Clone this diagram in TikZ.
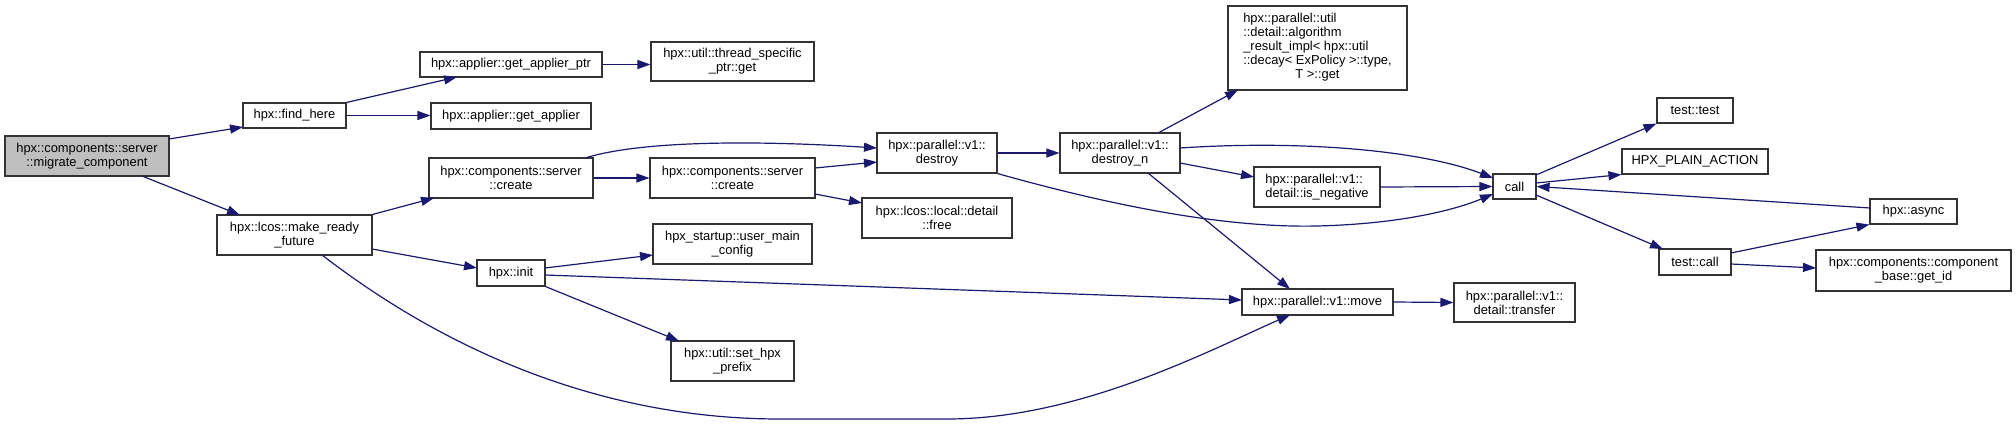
\documentclass[tikz,border=0pt]{standalone}
\usepackage{fontspec}
\setmainfont{Liberation Sans}
\usetikzlibrary{arrows.meta,calc}
\definecolor{edgecol}{HTML}{191970}
\definecolor{rootfill}{HTML}{BFBFBF}
\definecolor{boxline}{HTML}{333333}
\begin{document}
\begin{tikzpicture}[x=1pt,y=-1pt,
  fn/.style={draw=boxline, line width=1.1pt, fill=white, inner sep=0pt, align=center,
             font=\fontsize{12.9}{14}\selectfont},
  e/.style={draw=edgecol, line width=1.2pt, -{Triangle[length=13pt,width=9pt]}}]
\useasboundingbox (0,0) rectangle (2016,425);

% nodes
\node[fn, fill=rootfill, minimum width=164pt, minimum height=40pt] (mig) at (87,156) {hpx::components::server\\::migrate\_component};
\node[fn, minimum width=103pt, minimum height=25pt] (fh) at (294.5,115.5) {hpx::find\_here};
\node[fn, minimum width=155pt, minimum height=40pt] (mrf) at (294.5,235) {hpx::lcos::make\_ready\\\_future};
\node[fn, minimum width=182pt, minimum height=25pt] (gap) at (511,64.5) {hpx::applier::get\_applier\_ptr};
\node[fn, minimum width=163pt, minimum height=39pt] (tsp) at (732.5,61.5) {hpx::util::thread\_specific\\\_ptr::get};
\node[fn, minimum width=160pt, minimum height=26pt] (ga) at (511,116) {hpx::applier::get\_applier};
\node[fn, minimum width=164pt, minimum height=40pt] (cr1) at (511,178) {hpx::components::server\\::create};
\node[fn, minimum width=165pt, minimum height=40pt] (cr2) at (732.5,178) {hpx::components::server\\::create};
\node[fn, minimum width=68pt, minimum height=26pt] (init) at (511,273) {hpx::init};
\node[fn, minimum width=159pt, minimum height=40pt] (umc) at (732.5,244) {hpx\_startup::user\_main\\\_config};
\node[fn, minimum width=123pt, minimum height=40pt] (shp) at (732.5,361) {hpx::util::set\_hpx\\\_prefix};
\node[fn, minimum width=120pt, minimum height=40pt] (destroy) at (937,153) {hpx::parallel::v1::\\destroy};
\node[fn, minimum width=150pt, minimum height=40pt] (free) at (937,218) {hpx::lcos::local::detail\\::free};
\node[fn, minimum width=120pt, minimum height=40pt] (dn) at (1120,153) {hpx::parallel::v1::\\destroy\_n};
\node[fn, minimum width=179pt, minimum height=84pt] (alg) at (1317.5,48) {%
  \begin{tabular}{@{}l@{}}hpx::parallel::util\\::detail::algorithm\\\_result\_impl< hpx::util\\::decay< ExPolicy >::type,\\\multicolumn{1}{@{}c@{}}{T >::get}\end{tabular}};
\node[fn, align=left, minimum width=126pt, minimum height=40pt] (isneg) at (1317,187) {hpx::parallel::v1::\\detail::is\_negative};
\node[fn, minimum width=151pt, minimum height=26pt] (move) at (1317.5,302) {hpx::parallel::v1::move};
\node[fn, minimum width=43pt, minimum height=25pt] (call) at (1514.5,186.5) {call};
\node[fn, minimum width=121pt, minimum height=39pt] (transfer) at (1514.5,302.5) {hpx::parallel::v1::\\detail::transfer};
\node[fn, minimum width=76pt, minimum height=25pt] (tt) at (1695,110.5) {test::test};
\node[fn, minimum width=146pt, minimum height=25pt] (hpa) at (1695,161.5) {HPX\_PLAIN\_ACTION};
\node[fn, minimum width=72pt, minimum height=26pt] (tc) at (1695,262) {test::call};
\node[fn, minimum width=87pt, minimum height=25pt] (async) at (1913.5,211.5) {hpx::async};
\node[fn, minimum width=195pt, minimum height=41pt] (getid) at (1913.5,270.5) {hpx::components::component\\\_base::get\_id};

% edges
\draw[e] ($(mig)+(82,-17)$) -- ($(fh)+(-51.5,11.5)$);
\draw[e] ($(mig)+(55,20)$) -- ($(mrf)+(-54.5,-20)$);
\draw[e] (fh.north east) -- ($(gap)+(-54,12.5)$);
\draw[e] (fh.east) -- (fh.east -| ga.west);
\draw[e] (gap.east) -- (gap.east -| tsp.west);
\draw[e] (mrf.north east) -- ($(cr1)+(-77,20)$);
\draw[e] ($(mrf)+(77.5,14)$) -- ($(init)+(-34,-5)$);
\draw[e] ($(mrf)+(27.5,20)$) .. controls (400,315) and (560,419) .. (780,419) -- (947,419)
   .. controls (1080,419) and (1210,350) .. ($(move)+(-27.5,13)$);
\draw[e] (cr1.east) -- (cr2.west);
\draw[e] ($(cr1)+(74,-20)$) .. controls (640,141) and (750,140) .. ($(destroy)+(-60,-5)$);
\draw[e] ($(cr2)+(82.5,-10)$) -- ($(destroy)+(-60,9)$);
\draw[e] ($(cr2)+(82.5,16)$) -- ($(free)+(-75,-15)$);
\draw[e] ($(init)+(34,-5)$) -- ($(umc)+(-79.5,11)$);
\draw[e] ($(init)+(34,2)$) -- ($(move)+(-75.5,-2)$);
\draw[e] (init.south east) -- ($(shp)+(-53.5,-20)$);
\draw[e] (destroy.east) -- (dn.west);
\draw[e] (destroy.south east) .. controls (1120,208) and (1230,228) .. (1317,226)
   .. controls (1400,224) and (1455,210) .. ($(call)+(-21.5,7.5)$);
\draw[e] ($(dn)+(38,-20)$) -- ($(alg)+(-79.5,42)$);
\draw[e] ($(dn)+(60,-5)$) .. controls (1300,140) and (1420,150) .. ($(call)+(-21.5,-8.5)$);
\draw[e] ($(dn)+(60,10)$) -- ($(isneg)+(-63,-10)$);
\draw[e] ($(dn)+(28,20)$) -- ($(move)+(-27.5,-13)$);
\draw[e] (isneg.east) -- (call.west);
\draw[e] (move.east) -- (transfer.west);
\draw[e] ($(call)+(21.5,-11.5)$) -- (tt.south west);
\draw[e] ($(call)+(21.5,-3.5)$) -- (hpa.south west);
\draw[e] ($(call)+(21.5,8.5)$) -- ($(tc)+(-32,-13)$);
\draw[e] ($(async)+(-43.5,-3.5)$) -- (call.east);
\draw[e] ($(tc)+(36,-9)$) -- (async.south west);
\draw[e] ($(tc)+(36,2)$) -- ($(getid)+(-97.5,-2.5)$);
\end{tikzpicture}
\end{document}
